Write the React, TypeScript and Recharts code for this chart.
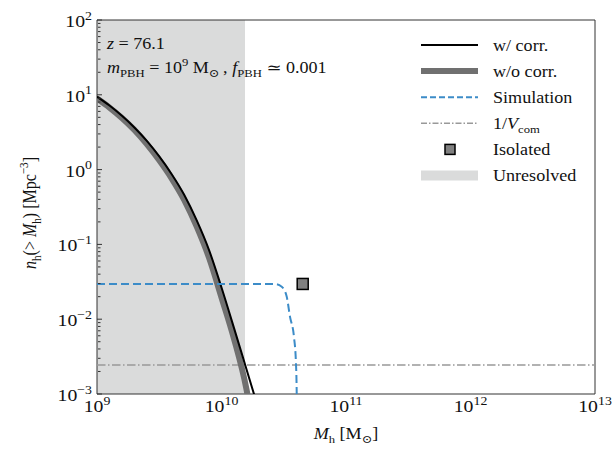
import React from 'react';
import { ComposedChart, Line, Scatter, XAxis, YAxis, ReferenceArea } from 'recharts';

// halo mass [M_sun] and cumulative number density [Mpc^-3]
const withCorrMass = [1e9, 1.259e9, 1.585e9, 1.995e9, 2.512e9, 3.162e9, 3.981e9, 5.012e9, 6.31e9, 7.943e9, 1e10, 1.259e10, 1.585e10, 1.995e10];
const withCorrDensity = [9.44, 7.18, 5.24, 3.66, 2.42, 1.5, 0.867, 0.461, 0.211, 0.0839, 0.0265, 0.00766, 0.00216, 0.000608];

const withoutCorrMass = [1e9, 1.259e9, 1.585e9, 1.995e9, 2.512e9, 3.162e9, 3.981e9, 5.012e9, 6.31e9, 7.943e9, 1e10, 1.259e10, 1.585e10, 1.778e10];
const withoutCorrDensity = [8.9, 6.76, 4.9, 3.39, 2.19, 1.33, 0.759, 0.394, 0.174, 0.0661, 0.0195, 0.0055, 0.00117, 0.0004];

const simMass = [1e9, 2.692e10, 3.048e10, 3.342e10, 3.548e10, 3.819e10, 3.963e10, 4.018e10, 4.036e10];
const simDensity = [0.0296, 0.0296, 0.0272, 0.02, 0.0108, 0.00583, 0.00259, 0.00103, 0.0005];

const vcomMass = [1e9, 1e13];
const vcomDensity = [0.00244, 0.00244];

const isolatedMass = [4.49e10];
const isolatedDensity = [0.0296];

const unresolvedMass = [1e9, 1.545e10];

const massDomain = [1e9, 1e13];
const densityDomain = [1e-3, 1e2];
const massTicks = [1e9, 1e10, 1e11, 1e12, 1e13];
const densityTicks = [1e-3, 1e-2, 1e-1, 1e0, 1e1, 1e2];
const minorFactors = [2, 3, 4, 5, 6, 7, 8, 9];
const massMinorTicks = massTicks.slice(0, -1).flatMap((d) => minorFactors.map((k) => k * d));
const densityMinorTicks = densityTicks.slice(0, -1).flatMap((d) => minorFactors.map((k) => k * d));

const zip = (m: number[], n: number[]) => m.map((v, i) => ({ m: v, n: n[i] }));

const FONT = "'Liberation Serif', 'Nimbus Roman', 'DejaVu Serif', serif";
const SX = 1.13; // the figure is slightly stretched horizontally

type Seg = { t: string; i?: boolean; s?: 'sub' | 'sup' };

function Rich({ segs, size = 16 }: { segs: Seg[]; size?: number }) {
  let shift = 0;
  return (
    <>
      {segs.map((sg, k) => {
        const target = sg.s === 'sub' ? size * 0.25 : sg.s === 'sup' ? -size * 0.42 : 0;
        const dy = target - shift;
        shift = target;
        return (
          <tspan key={k} dy={dy} style={{ fontStyle: sg.i ? 'italic' : 'normal', fontSize: sg.s ? size * 0.7 : size }}>
            {sg.t}
          </tspan>
        );
      })}
    </>
  );
}

function Txt({ x, y, segs, anchor = 'start', size = 16, rotate = 0 }: any) {
  return (
    <g transform={`translate(${x},${y}) scale(${SX},1) rotate(${rotate})`}>
      <text x={0} y={0} textAnchor={anchor} fill="#111" style={{ fontFamily: FONT }}>
        <Rich segs={segs} size={size} />
      </text>
    </g>
  );
}

const powerSegs = (v: number): Seg[] => {
  const e = Math.round(Math.log10(v));
  return [{ t: '10' }, { t: e < 0 ? `\u2212${-e}` : `${e}`, s: 'sup' }];
};

function MassTick(props: any) {
  const { x, y, payload } = props;
  return <Txt x={x} y={y + 18} size={17.5} segs={powerSegs(payload.value)} anchor="middle" />;
}

function DensityTick(props: any) {
  const { x, y, payload } = props;
  return <Txt x={x - 5} y={y + 7} size={17.5} segs={powerSegs(payload.value)} anchor="end" />;
}

const NoLabel = () => <g />;

const legendItems = [
  { label: [{ t: 'w/ corr.' }], kind: 'line', stroke: '#000', width: 2 },
  { label: [{ t: 'w/o corr.' }], kind: 'line', stroke: '#707070', width: 6 },
  { label: [{ t: 'Simulation' }], kind: 'line', stroke: '#3c8cc8', width: 2, dash: '6 3' },
  { label: [{ t: '1/' }, { t: 'V', i: true }, { t: 'com', s: 'sub' }], kind: 'line', stroke: '#999', width: 1.5, dash: '6 2 1.5 2' },
  { label: [{ t: 'Isolated' }], kind: 'square' },
  { label: [{ t: 'Unresolved' }], kind: 'patch' },
];

function Overlay() {
  const y0 = 45;
  const step = 26.1;
  return (
    <svg width={616} height={453} style={{ position: 'absolute', left: 0, top: 0, pointerEvents: 'none' }}>
      <Txt x={107} y={49} segs={[{ t: 'z', i: true }, { t: ' = 76.1' }]} />
      <Txt
        x={107}
        y={73}
        segs={[
          { t: 'm', i: true },
          { t: 'PBH', s: 'sub' },
          { t: ' = 10' },
          { t: '9', s: 'sup' },
          { t: ' M' },
          { t: '\u2299', s: 'sub' },
          { t: '\u2009, ' },
          { t: 'f', i: true },
          { t: 'PBH', s: 'sub' },
          { t: ' \u2243 0.001' },
        ]}
      />
      {legendItems.map((it: any, k) => {
        const cy = y0 + k * step;
        let handle = null;
        if (it.kind === 'line') {
          handle = <line x1={421} x2={478} y1={cy} y2={cy} stroke={it.stroke} strokeWidth={it.width} strokeDasharray={it.dash} />;
        } else if (it.kind === 'square') {
          handle = <rect x={445} y={cy - 5} width={10} height={10} fill="#808080" stroke="#000" strokeWidth={1.5} />;
        } else {
          handle = <rect x={421} y={cy - 5} width={57} height={10} fill="#dadbdb" />;
        }
        return (
          <g key={k}>
            {handle}
            <Txt x={493} y={cy + 5.5} segs={it.label} />
          </g>
        );
      })}
      <Txt
        x={346}
        y={439}
        anchor="middle"
        segs={[{ t: 'M', i: true }, { t: 'h', s: 'sub' }, { t: ' [M' }, { t: '\u2299', s: 'sub' }, { t: ']' }]}
      />
      <Txt
        x={36}
        y={213}
        anchor="middle"
        rotate={-90}
        segs={[
          { t: 'n', i: true },
          { t: 'h', s: 'sub' },
          { t: '(> ' },
          { t: 'M', i: true },
          { t: 'h', s: 'sub' },
          { t: ') [Mpc' },
          { t: '\u22123', s: 'sup' },
          { t: ']' },
        ]}
      />
    </svg>
  );
}

export default function App() {
  return (
    <div style={{ position: 'absolute', left: 0, top: 0, width: 616, height: 453, background: '#fff' }}>
      <ComposedChart width={616} height={453} margin={{ top: 20, right: 21, bottom: 0, left: 0 }}>
        <XAxis
          dataKey="m"
          type="number"
          scale="log"
          domain={massDomain}
          allowDataOverflow
          ticks={massTicks}
          interval={0}
          height={59}
          axisLine={false}
          tickLine={false}
          tickSize={0}
          tickMargin={0}
          tick={<MassTick />}
        />
        {/* inward tick marks: mirrored axes sit on the plot edge */}
        <XAxis xAxisId="major" type="number" scale="log" domain={massDomain} allowDataOverflow ticks={massTicks} interval={0} mirror height={1} axisLine={false} tick={<NoLabel />} tickSize={5} stroke="#333" />
        <XAxis xAxisId="minor" type="number" scale="log" domain={massDomain} allowDataOverflow ticks={massMinorTicks} interval={0} mirror height={1} axisLine={false} tick={<NoLabel />} tickSize={2.5} stroke="#333" />
        <YAxis
          dataKey="n"
          type="number"
          scale="log"
          domain={densityDomain}
          allowDataOverflow
          ticks={densityTicks}
          interval={0}
          width={97}
          axisLine={false}
          tickLine={false}
          tickSize={0}
          tickMargin={0}
          tick={<DensityTick />}
        />
        <YAxis yAxisId="major" type="number" scale="log" domain={densityDomain} allowDataOverflow ticks={densityTicks} interval={0} mirror width={1} axisLine={false} tick={<NoLabel />} tickSize={5} stroke="#333" />
        <YAxis yAxisId="minor" type="number" scale="log" domain={densityDomain} allowDataOverflow ticks={densityMinorTicks} interval={0} mirror width={1} axisLine={false} tick={<NoLabel />} tickSize={2.5} stroke="#333" />

        <ReferenceArea x1={unresolvedMass[0]} x2={unresolvedMass[1]} y1={densityDomain[0]} y2={densityDomain[1]} fill="#dadbdb" fillOpacity={1} stroke="none" />

        <Line data={zip(vcomMass, vcomDensity)} dataKey="n" stroke="#999" strokeWidth={1.5} strokeDasharray="8.5 2.5 1.5 2.5" dot={false} isAnimationActive={false} />
        <Line data={zip(withoutCorrMass, withoutCorrDensity)} dataKey="n" type="monotone" stroke="#707070" strokeWidth={6} dot={false} isAnimationActive={false} />
        <Line data={zip(withCorrMass, withCorrDensity)} dataKey="n" type="monotone" stroke="#000" strokeWidth={2} dot={false} isAnimationActive={false} />
        <Line data={zip(simMass, simDensity)} dataKey="n" type="monotone" stroke="#3c8cc8" strokeWidth={2} strokeDasharray="8 4" dot={false} isAnimationActive={false} />
        <Scatter
          data={zip(isolatedMass, isolatedDensity)}
          dataKey="n"
          isAnimationActive={false}
          shape={(p: any) => <rect x={p.cx - 5.5} y={p.cy - 5.5} width={11} height={11} fill="#808080" stroke="#000" strokeWidth={1.5} />}
        />

        <ReferenceArea x1={massDomain[0]} x2={massDomain[1]} y1={densityDomain[0]} y2={densityDomain[1]} fill="none" fillOpacity={0} stroke="#333" strokeWidth={1} />
      </ComposedChart>
      <Overlay />
    </div>
  );
}
